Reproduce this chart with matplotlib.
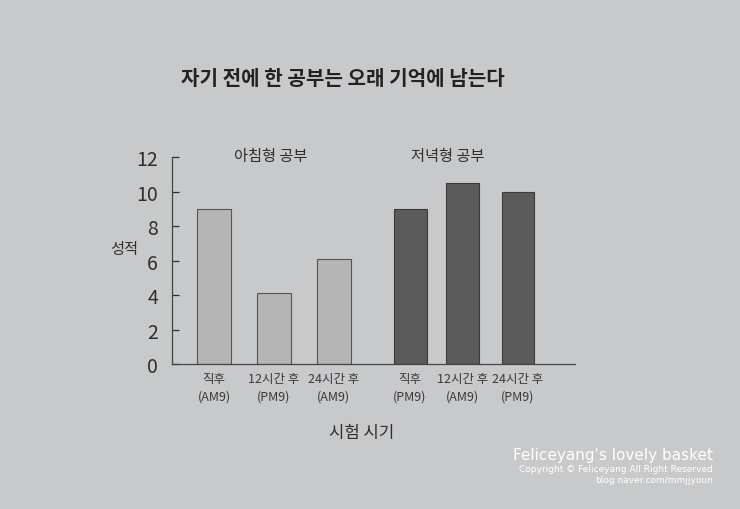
import matplotlib
matplotlib.use("Agg")
import matplotlib.pyplot as plt
import numpy as np

plt.rcParams['font.family'] = ['Noto Sans CJK KR', 'DejaVu Sans']

# data
morning_labels = ['직후\n(AM9)', '12시간 후\n(PM9)', '24시간 후\n(AM9)']
evening_labels = ['직후\n(PM9)', '12시간 후\n(AM9)', '24시간 후\n(PM9)']
morning_scores = [9, 4.1, 6.1]
evening_scores = [9, 10.5, 10]

paper = '#c8c9cb'
ink = '#2e2e2e'

fig = plt.figure(figsize=(7.4, 5.1), dpi=100, facecolor=paper)
ax = fig.add_axes([0.2324, 0.284, 0.5446, 0.406], facecolor=paper)

pos_m = np.array([0, 1, 2])
pos_e = np.array([3.27, 4.15, 5.07])
ax.bar(pos_m, morning_scores, width=0.58, color='#b5b5b6', edgecolor='#555555', linewidth=0.8)
ax.bar(pos_e, evening_scores, width=0.55, color='#5b5b5c', edgecolor='#3a3a3a', linewidth=0.8)

ax.set_xlim(-0.7, 6.02)
ax.set_ylim(0, 12)
ax.set_yticks(range(0, 13, 2))
ax.tick_params(axis='y', direction='in', length=5, width=0.9, colors=ink, labelsize=14, pad=10)
ax.set_xticks(list(pos_m) + list(pos_e))
ax.set_xticklabels(morning_labels + evening_labels, fontsize=9, color='#3a3a3a', linespacing=1.45)
ax.tick_params(axis='x', length=0, pad=6)
for s in ['top', 'right']:
    ax.spines[s].set_visible(False)
for s in ['left', 'bottom']:
    ax.spines[s].set_color('#444444')
    ax.spines[s].set_linewidth(0.9)

ax.set_ylabel('성적', fontsize=11, color=ink, rotation=0, va='center')
ax.yaxis.set_label_coords(-0.118, 0.56)
ax.set_xlabel('시험 시기', fontsize=12, color=ink)
ax.xaxis.set_label_coords(0.47, -0.29)
ax.text(0.95, 12.1, '아침형 공부', fontsize=11, color=ink, ha='center', va='center')
ax.text(3.9, 12.1, '저녁형 공부', fontsize=11, color=ink, ha='center', va='center')

fig.text(0.463, 0.847, '자기 전에 한 공부는 오래 기억에 남는다', fontsize=14.5, fontweight='bold',
         color='#222222', ha='center', va='center')

# blog watermark
fig.text(0.963, 0.107, "Feliceyang's lovely basket", fontsize=11, color='white', ha='right', va='center',
         family=['DejaVu Sans'])
fig.text(0.963, 0.080, 'Copyright © Feliceyang All Right Reserved', fontsize=6.5, color='white',
         ha='right', va='center', family=['DejaVu Sans'])
fig.text(0.963, 0.058, 'blog.naver.com/mmjjyoun', fontsize=6.5, color='white', ha='right', va='center',
         family=['DejaVu Sans'])

plt.savefig('out.png', dpi=100, facecolor=paper)
